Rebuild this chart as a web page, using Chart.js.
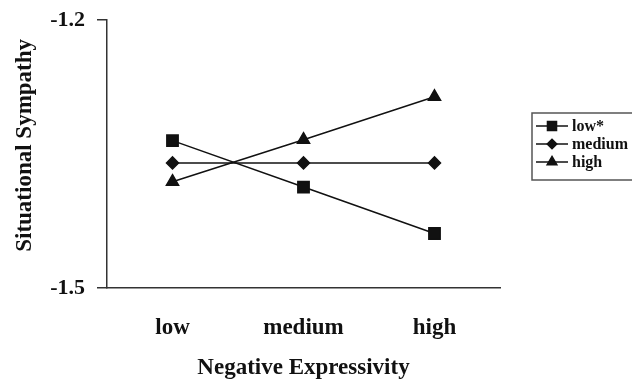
<!DOCTYPE html>
<html>
<head>
<meta charset="utf-8">
<script src="https://cdn.jsdelivr.net/npm/chart.js@4/dist/chart.umd.min.js"></script>
<style>
  html, body { margin: 0; padding: 0; background: #fff; }
  #wrap { width: 632px; height: 387px; }
</style>
</head>
<body>
<div id="wrap"><canvas id="sympathyChart" width="632" height="387"></canvas></div>
<script>
// values
const categories = ['low', 'medium', 'high'];
const seriesNames = ['low*', 'medium', 'high'];
const lowValues = [-1.335, -1.387, -1.439];
const mediumValues = [-1.360, -1.360, -1.360];
const highValues = [-1.381, -1.334, -1.286];
const yTicks = [-1.5, -1.2];

const serif = 'Liberation Serif, Times New Roman, serif';
const ink = '#111';

// boxed legend on the right, like the printed figure
const boxLegend = {
  id: 'boxLegend',
  afterDraw(chart) {
    const ctx = chart.ctx;
    const left = 532, top = 113, bottom = 180;
    ctx.save();
    ctx.strokeStyle = '#555';
    ctx.lineWidth = 1.5;
    ctx.beginPath();
    ctx.moveTo(640, top);
    ctx.lineTo(left, top);
    ctx.lineTo(left, bottom);
    ctx.lineTo(640, bottom);
    ctx.stroke();

    const rows = [126, 144, 162];
    chart.data.datasets.forEach((ds, i) => {
      const y = rows[i];
      ctx.strokeStyle = ink;
      ctx.lineWidth = 1.5;
      ctx.beginPath();
      ctx.moveTo(536, y);
      ctx.lineTo(568, y);
      ctx.stroke();
      ctx.fillStyle = ink;
      Chart.helpers.drawPoint(ctx, {
        pointStyle: ds.pointStyle,
        radius: ds.pointRadius * 0.8,
        rotation: 0,
        borderWidth: 1
      }, 552, y);
      ctx.fillStyle = ink;
      ctx.font = 'bold 16px ' + serif;
      ctx.textBaseline = 'middle';
      ctx.textAlign = 'left';
      ctx.fillText(ds.label, 572, y + 1);
    });
    ctx.restore();
  }
};

const ctx = document.getElementById('sympathyChart').getContext('2d');

const makeSeries = (label, data, style, radius) => ({
  label,
  data,
  borderColor: ink,
  backgroundColor: ink,
  borderWidth: 1.5,
  pointStyle: style,
  pointRadius: radius,
  pointBackgroundColor: ink,
  pointBorderColor: ink,
  tension: 0
});

new Chart(ctx, {
  type: 'line',
  data: {
    labels: categories,
    datasets: [
      makeSeries(seriesNames[0], lowValues, 'rect', 8),
      makeSeries(seriesNames[1], mediumValues, 'rectRot', 6),
      makeSeries(seriesNames[2], highValues, 'triangle', 7)
    ]
  },
  options: {
    responsive: false,
    animation: false,
    layout: { padding: { top: 20, right: 132, left: 0, bottom: 0 } },
    plugins: {
      legend: { display: false },
      tooltip: { enabled: false }
    },
    scales: {
      x: {
        offset: true,
        grid: { display: false },
        border: { display: true, color: '#333', width: 1.5 },
        ticks: {
          padding: 18,
          color: ink,
          font: { family: serif, size: 23, weight: 'bold' }
        },
        title: {
          display: true,
          text: 'Negative Expressivity',
          color: ink,
          padding: { top: 0, bottom: 5 },
          font: { family: serif, size: 23, weight: 'bold' }
        },
        afterFit(scale) { scale.height = 99; }
      },
      y: {
        min: -1.5,
        max: -1.2,
        grid: {
          display: true,
          drawOnChartArea: false,
          drawTicks: true,
          tickLength: 10,
          color: '#333',
          lineWidth: 1.5
        },
        border: { display: true, color: '#333', width: 1.5 },
        afterBuildTicks(scale) {
          scale.ticks = yTicks.map(v => ({ value: v }));
        },
        ticks: {
          padding: 12,
          color: ink,
          font: { family: serif, size: 22, weight: 'bold' },
          callback: (v) => Number(v).toFixed(1)
        },
        title: {
          display: true,
          // leading spaces nudge the rotated title up a little, as in the print
          text: '   Situational Sympathy',
          color: ink,
          padding: { top: 11, bottom: 0 },
          font: { family: serif, size: 23, weight: 'bold' }
        },
        afterFit(scale) {
          scale.width = 107;
          scale.paddingTop = 0;
          scale.paddingBottom = 0;
        }
      }
    }
  },
  plugins: [boxLegend]
});
</script>
</body>
</html>
